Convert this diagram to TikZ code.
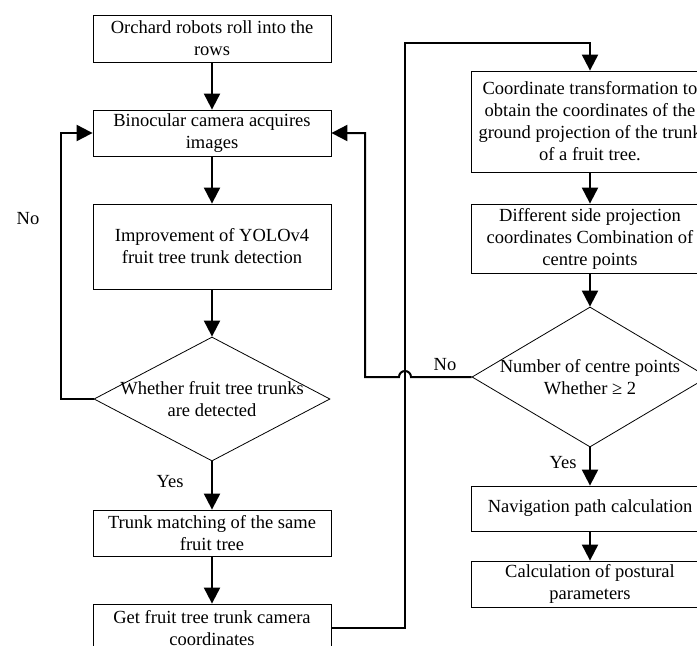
\documentclass[tikz,border=0pt]{standalone}
\usepackage{fontspec}
\setmainfont{Liberation Serif}
\usetikzlibrary{shapes.geometric,arrows.meta}
\begin{document}
\begin{tikzpicture}[x=1pt,y=-1pt,
 box/.style={draw, line width=0.8pt, align=center, minimum width=238pt, inner sep=0pt, font=\fontsize{18.5}{22}\selectfont},
 dia/.style={draw, diamond, line width=0.8pt, minimum width=236pt, inner sep=0pt},
 arr/.style={line width=2pt, -{Triangle[width=16pt,length=16pt]}},
 lbl/.style={font=\fontsize{18.5}{22}\selectfont, inner sep=0pt, align=center}]
\useasboundingbox (0,0) rectangle (697,646);
\fill[white] (0,0) rectangle (697,646);
\clip (0,0) rectangle (697,646);
% left column
\node[box, minimum height=47pt] (b1) at (212,38.5) {Orchard robots roll into the\\rows};
\node[box, minimum height=46pt] (b2) at (212,133) {Binocular camera acquires\\images};
\node[box, minimum height=85pt] (b3) at (212,246.5) {Improvement of YOLOv4\\fruit tree trunk detection};
\node[dia, minimum height=124pt] (d1) at (212,399) {};
\node[lbl] (d1t) at (d1.center) {Whether fruit tree trunks\\are detected};
\node[box, minimum height=46pt] (b5) at (212,533) {Trunk matching of the same\\fruit tree};
\node[box, minimum height=48pt] (b6) at (212,628) {Get fruit tree trunk camera\\coordinates};
% right column
\node[box, minimum height=101pt] (b7) at (590,121.5) {Coordinate transformation to\\obtain the coordinates of the\\ground projection of the trunk\\of a fruit tree.};
\node[box, minimum height=69pt] (b8) at (590,238.5) {Different side projection\\coordinates Combination of\\centre points};
\node[dia, minimum height=140pt] (d2) at (590,377) {};
\node[lbl] (d2t) at (d2.center) {Number of centre points\\Whether ≥ 2};
\node[box, minimum height=45pt] (b9) at (590,508.5) {Navigation path calculation};
\node[box, minimum height=46pt] (b10) at (590,584) {Calculation of postural\\parameters};
% labels
\node[lbl] (no1) at (28,219) {No};
\node[lbl] (no2) at (445,365) {No};
\node[lbl] (yes1) at (170,482) {Yes};
\node[lbl] (yes2) at (563,463) {Yes};
% coordinates
\coordinate (cl) at (61,399);
\coordinate (ct) at (405,43);
\coordinate (cr) at (365,377);
% connectors
\draw[arr] (b1.south) -- (b2.north);
\draw[arr] (b2.south) -- (b3.north);
\draw[arr] (b3.south) -- (d1.north);
\draw[arr] (d1.south) -- (b5.north);
\draw[arr] (b5.south) -- (b6.north);
\draw[arr] (d1.west) -- (cl) |- (b2.west);
\draw[arr] (b6.east) -| (ct) -| (b7.north);
\draw[arr] (b7.south) -- (b8.north);
\draw[arr] (b8.south) -- (d2.north);
\draw[arr] (d2.south) -- (b9.north);
\draw[arr] (b9.south) -- (b10.north);
\draw[arr] (d2.west) -- (411,377) arc[start angle=0, end angle=-180, radius=6] -- (cr) |- (b2.east);
\end{tikzpicture}
\end{document}
